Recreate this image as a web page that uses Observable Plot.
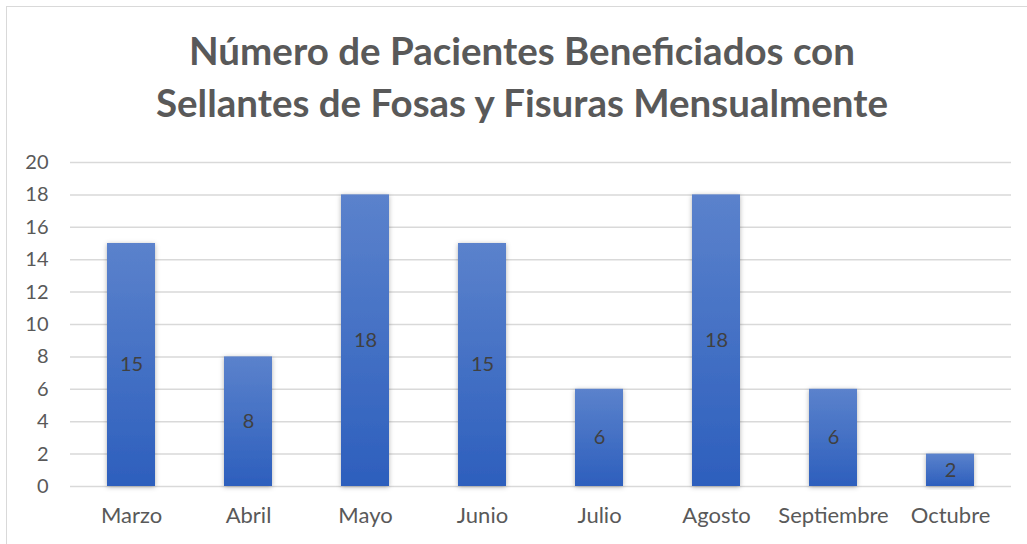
<!DOCTYPE html>
<html><head><meta charset="utf-8">
<script src="https://cdn.jsdelivr.net/npm/d3@7"></script>
<script src="https://cdn.jsdelivr.net/npm/@observablehq/plot@0.6"></script>
<style>
body{margin:0;background:#fff;font-family:Lato,"Open Sans",sans-serif;}
#wrap{position:relative;width:1027px;height:544px;overflow:hidden;}
#frame{position:absolute;left:6px;top:6px;width:1030px;height:545px;border:1.5px solid #d9d9d9;box-sizing:border-box;}
#title{position:absolute;left:0;top:24px;width:1044px;text-align:center;font-weight:bold;font-size:38.5px;line-height:52px;color:#595959;white-space:nowrap;}
#chart{position:absolute;left:0;top:140px;}
</style></head><body>
<div id="wrap"><div id="frame"></div>
<div id="title">Número de Pacientes Beneficiados con<br>Sellantes de Fosas y Fisuras Mensualmente</div>
<div id="chart"></div></div>
<script>
const months = ["Marzo","Abril","Mayo","Junio","Julio","Agosto","Septiembre","Octubre"];
const patients = [15, 8, 18, 15, 6, 18, 6, 2];
const yTicks = [0,2,4,6,8,10,12,14,16,18,20];
const data = months.map((m,i)=>({month:m, value:patients[i]}));

const plot = Plot.plot({
  width:1027, height:404,
  marginTop:22, marginBottom:58, marginLeft:70, marginRight:16,
  style:{fontFamily:"Lato, 'Open Sans', sans-serif", fontSize:"20px", color:"#595959", background:"transparent"},
  x:{domain:months, paddingInner:0.59, paddingOuter:0.295, label:null},
  y:{domain:[0,20], label:null},
  marks:[
    Plot.gridY(yTicks,{stroke:"#d9d9d9", strokeOpacity:1, strokeWidth:1.5}),
    Plot.barY(data,{x:"month", y:"value", fill:"#4472c4", className:"bars"}),
    Plot.text(data,{x:"month", y:d=>d.value/2, text:d=>String(d.value), fill:"#404040", fontSize:20}),
    Plot.axisX({tickSize:0, tickPadding:21, fontSize:22, fill:"#595959", label:null}),
    Plot.axisY(yTicks,{tickSize:0, tickPadding:22, fontSize:20, fill:"#595959", label:null})
  ]
});
const svg = d3.select(plot);
const defs = svg.insert("defs",":first-child");
const g = defs.append("linearGradient").attr("id","barGrad").attr("x1",0).attr("y1",0).attr("x2",0).attr("y2",1);
g.append("stop").attr("offset","0%").attr("stop-color","#5b82cc");
g.append("stop").attr("offset","100%").attr("stop-color","#2d5fbd");
const f = defs.append("filter").attr("id","shadow").attr("x","-30%").attr("y","-10%").attr("width","160%").attr("height","120%");
f.append("feDropShadow").attr("dx",0).attr("dy",1).attr("stdDeviation",2.5).attr("flood-color","#000").attr("flood-opacity",0.3);
svg.selectAll("g.bars rect").attr("fill","url(#barGrad)").attr("filter","url(#shadow)");
svg.select("g.bars").attr("fill","url(#barGrad)");
document.getElementById("chart").append(plot);
</script></body></html>
